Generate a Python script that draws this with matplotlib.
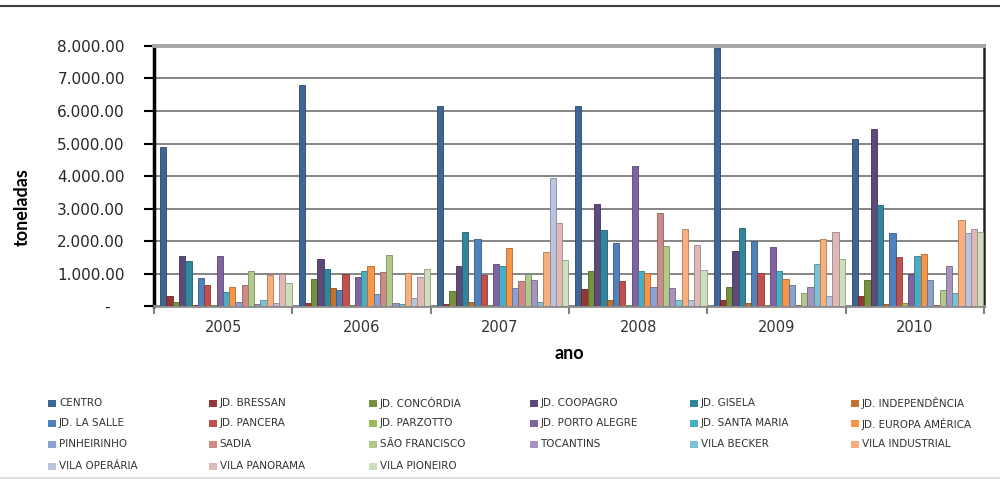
import numpy as np
import matplotlib
matplotlib.use("Agg")
import matplotlib.pyplot as plt
from matplotlib.lines import Line2D
from matplotlib.patches import Rectangle

years = ["2005", "2006", "2007", "2008", "2009", "2010"]

series_names = [
    "CENTRO", "JD. BRESSAN", "JD. CONCÓRDIA", "JD. COOPAGRO", "JD. GISELA", "JD. INDEPENDÊNCIA",
    "JD. LA SALLE", "JD. PANCERA", "JD. PARZOTTO", "JD. PORTO ALEGRE", "JD. SANTA MARIA", "JD. EUROPA AMÉRICA",
    "PINHEIRINHO", "SADIA", "SÃO FRANCISCO", "TOCANTINS", "VILA BECKER", "VILA INDUSTRIAL",
    "VILA OPERÁRIA", "VILA PANORAMA", "VILA PIONEIRO",
]

centro = [4900, 6800, 6150, 6150, 7950, 5130]
jd_bressan = [300, 100, 70, 510, 180, 320]
jd_concordia = [120, 820, 460, 1070, 580, 800]
jd_coopagro = [1550, 1450, 1230, 3150, 1680, 5460]
jd_gisela = [1400, 1150, 2280, 2350, 2400, 3110]
jd_independencia = [30, 560, 120, 200, 80, 50]
jd_la_salle = [850, 480, 2070, 1930, 2000, 2260]
jd_pancera = [650, 1000, 970, 760, 1030, 1520]
jd_parzotto = [40, 30, 30, 40, 30, 90]
jd_porto_alegre = [1550, 900, 1300, 4300, 1830, 1000]
jd_santa_maria = [420, 1070, 1230, 1070, 1090, 1530]
jd_europa_america = [600, 1230, 1800, 1030, 830, 1610]
pinheirinho = [120, 380, 550, 590, 650, 800]
sadia = [640, 1060, 780, 2850, 20, 20]
sao_francisco = [1080, 1580, 980, 1850, 410, 480]
tocantins = [50, 100, 810, 550, 590, 1240]
vila_becker = [200, 50, 120, 190, 1280, 410]
vila_industrial = [950, 1030, 1650, 2380, 2050, 2650]
vila_operaria = [100, 260, 3930, 180, 310, 2260]
vila_panorama = [1000, 900, 2550, 1880, 2290, 2370]
vila_pioneiro = [700, 1130, 1430, 1120, 1460, 2280]

series_values = [
    centro, jd_bressan, jd_concordia, jd_coopagro, jd_gisela, jd_independencia,
    jd_la_salle, jd_pancera, jd_parzotto, jd_porto_alegre, jd_santa_maria, jd_europa_america,
    pinheirinho, sadia, sao_francisco, tocantins, vila_becker, vila_industrial,
    vila_operaria, vila_panorama, vila_pioneiro,
]

colors = [
    "#3D6595", "#953735", "#76923C", "#5F497A", "#31859C", "#C0722F",
    "#4F81BD", "#C0504D", "#9BBB59", "#8064A2", "#4BACC6", "#F79646",
    "#8AA2CF", "#CF8987", "#B3C98B", "#A693BE", "#7FC1D4", "#F9AE7B",
    "#B9C4DD", "#E0B8B8", "#CEDDBB",
]

y_ticks = [0, 1000, 2000, 3000, 4000, 5000, 6000, 7000, 8000]


def darker(c, f=0.7):
    r, g, b = matplotlib.colors.to_rgb(c)
    return (r * f, g * f, b * f)


fig = plt.figure(figsize=(10, 4.79), dpi=100)
ax = fig.add_axes([0.154, 0.361, 0.830, 0.543])

n = len(series_names)
w = 0.95 / n
x = np.arange(len(years))
for i, (name, vals, col) in enumerate(zip(series_names, series_values, colors)):
    ax.bar(x + (i - (n - 1) / 2) * w + 0.02, vals, width=w, color=col,
           edgecolor=darker(col), linewidth=0.6, zorder=3)

ax.set_xlim(-0.5, len(years) - 0.5)
ax.set_ylim(0, 8000)

ax.set_yticks(y_ticks)
ax.set_yticklabels([("-   " if v == 0 else f"{v:,.2f}".replace(",", ".")) for v in y_ticks],
                   fontsize=11, color="#262626", family="DejaVu Sans")
ax.tick_params(axis="y", direction="out", length=7, width=1.5, color="black", pad=14)

ax.set_xticks(x)
ax.set_xticklabels(years, fontsize=10.5, color="#333333", family="DejaVu Sans")
ax.tick_params(axis="x", which="major", length=0, pad=10)
ax.set_xticks(np.arange(-0.5, len(years) + 0.5, 1.0), minor=True)
ax.tick_params(axis="x", which="minor", direction="out", length=6, width=1.5, color="#808080")

ax.yaxis.grid(True, color="#858585", linewidth=1.4, zorder=0)
ax.set_axisbelow(True)

ax.spines["left"].set_color("black")
ax.spines["left"].set_linewidth(2.5)
ax.spines["right"].set_color("#222222")
ax.spines["right"].set_linewidth(1.8)
ax.spines["top"].set_color("#a6a6a6")
ax.spines["top"].set_linewidth(2.8)
ax.spines["bottom"].set_color("#8c8c8c")
ax.spines["bottom"].set_linewidth(2.0)

ax.set_ylabel("toneladas", fontsize=13, fontweight="bold", family="Lato")
ax.yaxis.set_label_coords(-0.148, 0.38)
ax.set_xlabel("ano", fontsize=13, fontweight="bold", family="Lato", labelpad=7)

# top rule and bottom border
fig.add_artist(Line2D([0, 1], [1 - 6 / 479, 1 - 6 / 479], color="#404040", linewidth=1.5))
fig.add_artist(Line2D([0, 1], [1.5 / 479, 1.5 / 479], color="#d9d9d9", linewidth=1.2))

# legend (manual grid, 6 columns)
col_x0 = 48
col_dx = 160.5
row_y = [403, 423.5, 444, 466]
for i, (name, col) in enumerate(zip(series_names, colors)):
    r, c = divmod(i, 6)
    px = col_x0 + c * col_dx
    py = row_y[r]
    fig.add_artist(Rectangle(((px) / 1000, 1 - (py + 3.5) / 479), 8 / 1000, 7 / 479,
                             transform=fig.transFigure, facecolor=col, edgecolor="none"))
    fig.text((px + 11) / 1000, 1 - py / 479, name, fontsize=7.5, color="#333333",
             va="center", ha="left", family="DejaVu Sans")

fig.savefig("out.png", dpi=100)
